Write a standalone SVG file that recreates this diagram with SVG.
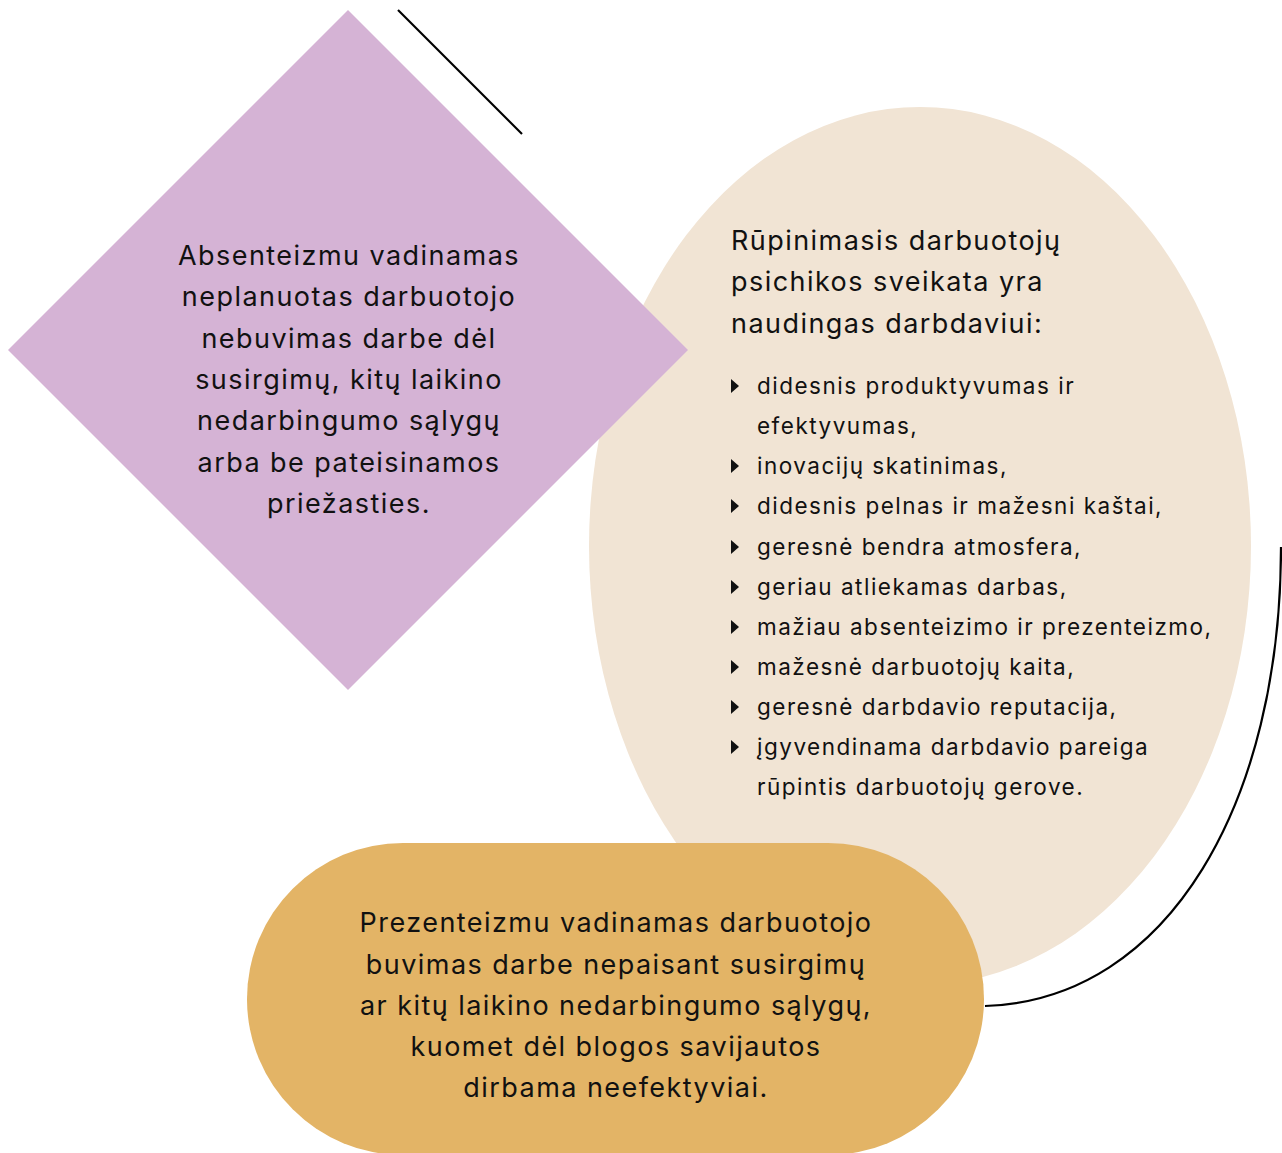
<svg xmlns="http://www.w3.org/2000/svg" width="1282" height="1153" viewBox="0 0 1282 1153">
<style>
.t{font-family:Inter,"Noto Sans","Liberation Sans",sans-serif;fill:#111;}
.big{font-size:27px;letter-spacing:1.45px;}
.sm{font-size:22.5px;letter-spacing:1.5px;}
.c{text-anchor:middle;}
.line{fill:none;stroke:#000;stroke-width:2.2;}
</style>
<defs>
<path id="tri" d="M0,-7 L8,0 L0,7 Z" fill="#111"/>
</defs>
<g id="connectors">
<line class="line" x1="398" y1="10" x2="522" y2="134"/>
<path class="line" d="M1281,547 C1281,800 1170,1000 985,1006"/>
</g>
<g id="ellipse-node">
<ellipse cx="920" cy="546" rx="331" ry="439" fill="#F1E4D4"/>
<text class="t big"><tspan x="731" y="250">Rūpinimasis darbuotojų</tspan><tspan x="731" y="291">psichikos sveikata yra</tspan><tspan x="731" y="333">naudingas darbdaviui:</tspan></text>
<g>
<use href="#tri" x="731" y="386"/>
<use href="#tri" x="731" y="466"/>
<use href="#tri" x="731" y="506"/>
<use href="#tri" x="731" y="547"/>
<use href="#tri" x="731" y="587"/>
<use href="#tri" x="731" y="627"/>
<use href="#tri" x="731" y="667"/>
<use href="#tri" x="731" y="707"/>
<use href="#tri" x="731" y="747"/>
</g>
<text class="t sm"><tspan x="757" y="394">didesnis produktyvumas ir</tspan><tspan x="757" y="434">efektyvumas,</tspan><tspan x="757" y="474">inovacijų skatinimas,</tspan><tspan x="757" y="514">didesnis pelnas ir mažesni kaštai,</tspan><tspan x="757" y="555">geresnė bendra atmosfera,</tspan><tspan x="757" y="595">geriau atliekamas darbas,</tspan><tspan x="757" y="635">mažiau absenteizimo ir prezenteizmo,</tspan><tspan x="757" y="675">mažesnė darbuotojų kaita,</tspan><tspan x="757" y="715">geresnė darbdavio reputacija,</tspan><tspan x="757" y="755">įgyvendinama darbdavio pareiga</tspan><tspan x="757" y="795">rūpintis darbuotojų gerove.</tspan></text>
</g>
<g id="diamond-node">
<polygon points="348,10 688,350 348,690 8,350" fill="#D5B3D5"/>
<text class="t big c"><tspan x="349" y="265">Absenteizmu vadinamas</tspan><tspan x="349" y="306">neplanuotas darbuotojo</tspan><tspan x="349" y="348">nebuvimas darbe dėl</tspan><tspan x="349" y="389">susirgimų, kitų laikino</tspan><tspan x="349" y="430">nedarbingumo sąlygų</tspan><tspan x="349" y="472">arba be pateisinamos</tspan><tspan x="349" y="513">priežasties.</tspan></text>
</g>
<g id="pill-node">
<rect x="247" y="843" width="737" height="312" rx="156" ry="156" fill="#E3B466"/>
<text class="t big c"><tspan x="616" y="932">Prezenteizmu vadinamas darbuotojo</tspan><tspan x="616" y="974">buvimas darbe nepaisant susirgimų</tspan><tspan x="616" y="1015">ar kitų laikino nedarbingumo sąlygų,</tspan><tspan x="616" y="1056">kuomet dėl blogos savijautos</tspan><tspan x="616" y="1097">dirbama neefektyviai.</tspan></text>
</g>
</svg>
